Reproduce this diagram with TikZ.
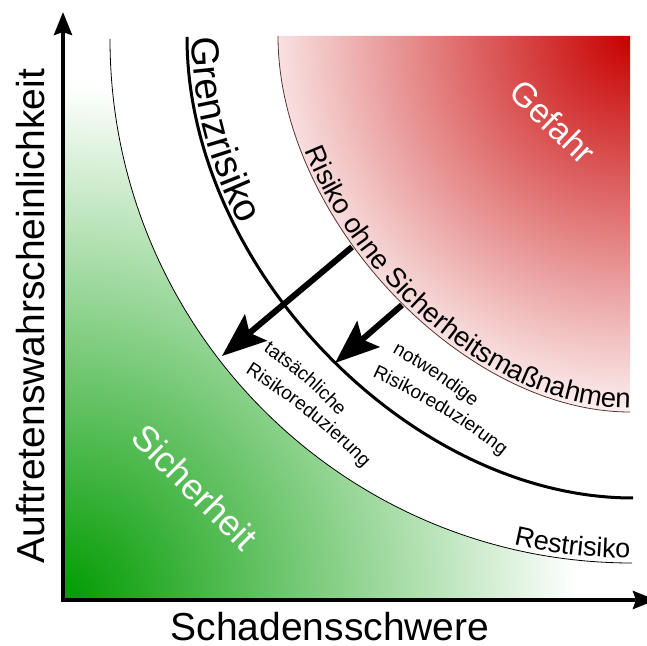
\documentclass[tikz,border=0pt]{standalone}
\usepackage{fontspec}
\setmainfont{Liberation Sans}
\usetikzlibrary{arrows.meta,decorations.text}
\definecolor{gdark}{RGB}{0,155,0}
\definecolor{rdark}{RGB}{200,0,0}
\definecolor{redline}{RGB}{90,50,50}
\pgfdeclareradialshading{greenfade}{\pgfpoint{0bp}{0bp}}{color(0bp)=(gdark); color(25bp)=(white); color(50bp)=(white)}
\pgfdeclareradialshading{redfade}{\pgfpoint{0bp}{0bp}}{color(0bp)=(rdark); color(25bp)=(white); color(50bp)=(white)}
\tikzset{
  axisarrow/.style={line width=4pt, -{Stealth[length=23pt,width=18pt,inset=3pt]}},
  bigarrow/.style={line width=6pt, -{Stealth[length=44pt,width=34pt,inset=8pt]}},
  biglabel/.style={font=\fontsize{39}{39}\selectfont, inner sep=0pt},
  whitelabel/.style={text=white, inner sep=0pt},
}
\begin{document}
\begin{tikzpicture}[x=1pt,y=1pt]
\useasboundingbox (0,0) rectangle (647,645);

% green safety region
\begin{scope}
  \clip (63,606) -- (110,606) .. controls (110,316.6) and (343.7,82) .. (632,82) -- (632,45) -- (63,45) -- cycle;
  \shade[shading=greenfade] (63,45) circle (515);
\end{scope}

% red danger region
\begin{scope}
  \clip (278,609) .. controls (278,428.5) and (461,233) .. (630,233) -- (630,609) -- cycle;
  \shade[shading=redfade] (630,609) circle (400);
\end{scope}

% curves
\draw[redline, line width=0.8pt] (278,609) .. controls (278,428.5) and (461,233) .. (630,233);
\draw[line width=3pt] (187,608) .. controls (187,377.5) and (410,147) .. (633,147);
\draw[line width=0.8pt] (110,606) .. controls (110,316.6) and (343.7,82) .. (632,82);

% texts along curves
\path[decorate, decoration={text along path, raise=5pt, text align={left indent=1pt},
  text={|\fontsize{39}{39}\selectfont|Grenzrisiko}}]
  (187,608) .. controls (187,377.5) and (410,147) .. (633,147);
\path[decorate, decoration={text along path, raise=4pt, text align={align=right, right indent=0pt},
  text={|\fontsize{27.5}{27.5}\selectfont|Risiko ohne Sicherheitsmaßnahmen}}]
  (278,609) .. controls (278,428.5) and (461,233) .. (630,233);
\path[decorate, decoration={text along path, raise=5pt, text align={align=right, right indent=2pt},
  text={|\fontsize{27}{27}\selectfont|Restrisiko}}]
  (110,606) .. controls (110,316.6) and (343.7,82) .. (632,82);

\path[decorate, decoration={text along path, text={|\fontsize{19}{19}\selectfont|tatsächliche}}]
  (263,294) to[bend left=7] (352,213);
\path[decorate, decoration={text along path, text={|\fontsize{19}{19}\selectfont|Risikoreduzierung}}]
  (245,272) to[bend left=7] (376,164);
\path[decorate, decoration={text along path, text={|\fontsize{19}{19}\selectfont|notwendige}}]
  (392,292) to[bend left=6] (490,223);
\path[decorate, decoration={text along path, text={|\fontsize{19}{19}\selectfont|Risikoreduzierung}}]
  (372,268) to[bend left=7] (516,178);

% arrows
\coordinate (a1s) at (352,398);
\coordinate (a1e) at (222,289);
\coordinate (a2s) at (402,340);
\coordinate (a2e) at (335,282);
\draw[bigarrow] (a1s) -- (a1e);
\draw[bigarrow] (a2s) -- (a2e);

% axes
\coordinate (O) at (63,45);
\coordinate (Ob) at (63,43);
\coordinate (ytip) at (63,633);
\coordinate (xtip) at (656,45);
\draw[axisarrow] (Ob) -- (ytip);
\draw[axisarrow] (O) -- (xtip);

% labels
\node[biglabel, anchor=base] (xl) at (330,5) {Schadensschwere};
\node[biglabel, anchor=base, rotate=90] (yl) at (44,329) {Auftretenswahrscheinlichkeit};
\node[whitelabel, font=\fontsize{34}{34}\selectfont, rotate=-44] (gef) at (553,523) {Gefahr};
\node[whitelabel, font=\fontsize{36}{36}\selectfont, rotate=-45] (sich) at (195,158) {Sicherheit};
\end{tikzpicture}
\end{document}
